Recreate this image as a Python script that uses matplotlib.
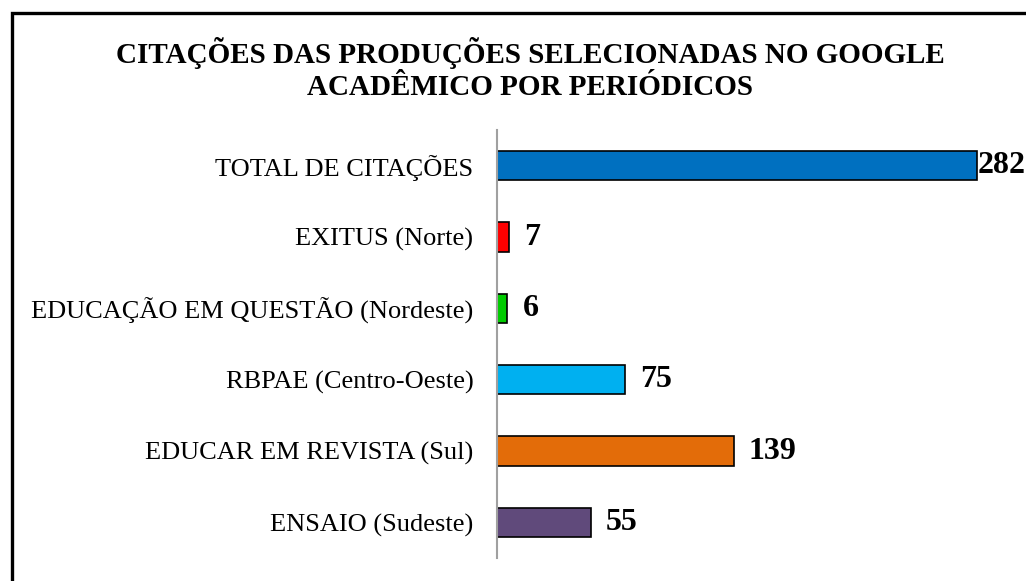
import matplotlib
matplotlib.use("Agg")
import matplotlib.pyplot as plt
from matplotlib.patches import Rectangle

categories = ["TOTAL DE CITAÇÕES", "EXITUS (Norte)", "EDUCAÇÃO EM QUESTÃO (Nordeste)",
              "RBPAE (Centro-Oeste)", "EDUCAR EM REVISTA (Sul)", "ENSAIO (Sudeste)"]
values = [282, 7, 6, 75, 139, 55]
colors = ["#0070C0", "#FF0000", "#00CC00", "#00B0F0", "#E36C09", "#604A7B"]
title = "CITAÇÕES DAS PRODUÇÕES SELECIONADAS NO GOOGLE\nACADÊMICO POR PERIÓDICOS"

plt.rcParams['font.family'] = ['Liberation Serif', 'DejaVu Serif']

W, H = 1026, 581
fig = plt.figure(figsize=(W / 100, H / 100), dpi=100)
fig.patch.set_facecolor("white")

# outer frame (extends past the right and bottom of the image)
fig.patches.append(Rectangle((11.5 / W, -0.1), 1.2, (H - 13) / H + 0.1,
                             transform=fig.transFigure, fill=False,
                             edgecolor="black", linewidth=2.4))

ax = fig.add_axes([497 / W, 1 - 558 / H, (1010 - 497) / W, (558 - 130) / H])
y = list(range(len(categories)))
ax.barh(y, values, height=0.41, color=colors, edgecolor="black", linewidth=1.2, zorder=3)
ax.set_ylim(len(categories) - 0.5, -0.5)
ax.set_xlim(0, (1010 - 497) / 1.702)
ax.set_yticks(y)
ax.set_yticklabels(categories, fontsize=19)
ax.tick_params(axis='y', length=0, pad=17)
ax.set_xticks([])
for s in ["top", "right", "bottom"]:
    ax.spines[s].set_visible(False)
ax.spines["left"].set_color("#A0A0A0")
ax.spines["left"].set_linewidth(1.5)
ax.spines["left"].set_zorder(4)

for i, v in enumerate(values):
    off = 0.8 if v == max(values) else 11
    ax.annotate(str(v), (v, i), xytext=(off, 0), textcoords="offset points",
                ha="left", va="center", fontsize=23, fontweight="bold")

fig.text(530 / W, 1 - 69 / H, title, ha="center", va="center", fontsize=21,
         fontweight="bold", linespacing=1.2)

fig.savefig("out.png", dpi=100)
